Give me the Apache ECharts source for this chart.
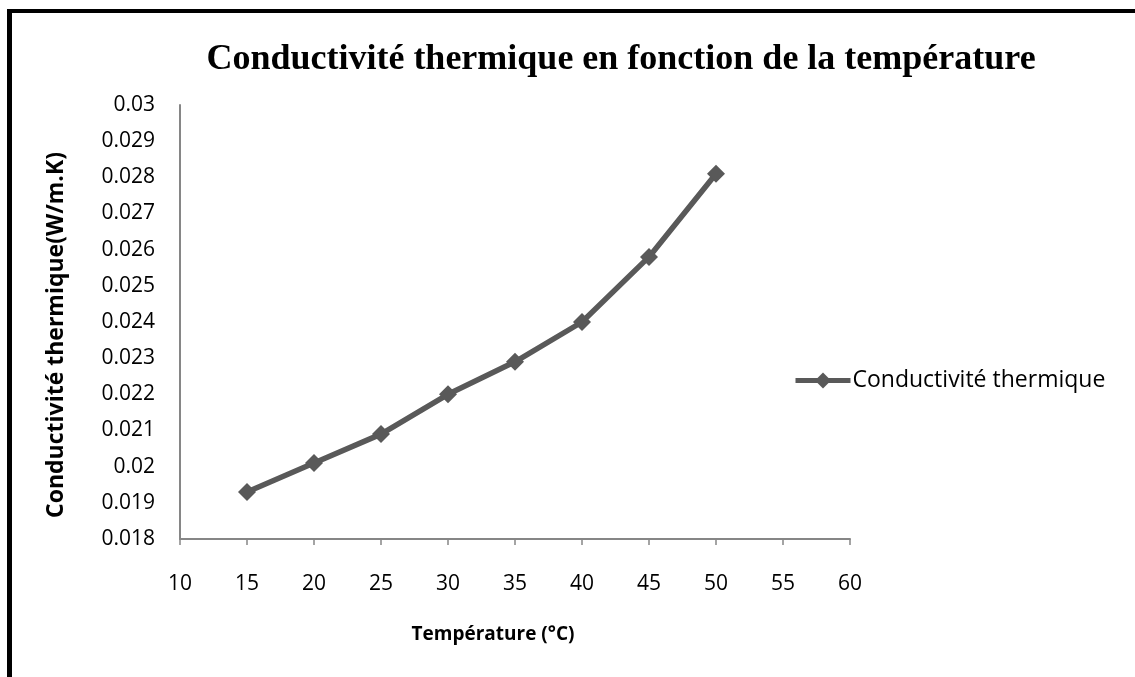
<!DOCTYPE html>
<html>
<head>
<meta charset="utf-8">
<script src="https://cdn.jsdelivr.net/npm/echarts@6/dist/echarts.min.js"></script>
<style>
  html, body { margin: 0; padding: 0; background: #fff; }
  #chart { width: 1135px; height: 677px; }
</style>
</head>
<body>
<div id="chart"></div>
<script>
// Thermal conductivity measured at each temperature step
const temperatures = [15, 20, 25, 30, 35, 40, 45, 50];
const conductivity = [0.0193, 0.0201, 0.0209, 0.0220, 0.0229, 0.0240, 0.0258, 0.0281];
const seriesName = 'Conductivité thermique';
const titleText = 'Conductivité thermique en fonction de la température';
const xAxisTitle = 'Température (°C)';
const yAxisTitle = 'Conductivité thermique(W/m.K)';

const points = temperatures.map((t, i) => [t, conductivity[i]]);
const labelFont = '"Open Sans", "Noto Sans", sans-serif';
const axisGrey = '#868686';
const lineGrey = '#595959';

const chart = echarts.init(document.getElementById('chart'), null, { renderer: 'canvas' });
chart.setOption({
  animation: false,
  backgroundColor: '#ffffff',
  title: {
    text: titleText,
    left: 616,
    top: 37,
    textAlign: 'center',
    textStyle: {
      fontFamily: '"Liberation Serif", "DejaVu Serif", serif',
      fontWeight: 'bold',
      fontSize: 36,
      color: '#000'
    }
  },
  legend: {
    data: [seriesName],
    left: 788,
    top: 364,
    itemWidth: 55,
    itemHeight: 20,
    itemGap: 0,
    lineStyle: { width: 5 },
    textStyle: { fontFamily: labelFont, fontSize: 23, color: '#000', padding: [0, 0, 0, -3] }
  },
  grid: { left: 180, right: 285, top: 105, bottom: 138 },
  xAxis: {
    type: 'value',
    min: 10,
    max: 60,
    interval: 5,
    name: xAxisTitle,
    nameLocation: 'middle',
    nameGap: 86,
    nameTextStyle: { fontFamily: labelFont, fontWeight: 'bold', fontSize: 19, color: '#000', padding: [0, 44, 0, 0] },
    axisLine: { show: true, lineStyle: { color: axisGrey, width: 2 } },
    axisTick: { show: true, inside: false, length: 6, lineStyle: { color: axisGrey, width: 1.5 } },
    axisLabel: { margin: 35, fontFamily: labelFont, fontSize: 21, color: '#000' },
    splitLine: { show: false }
  },
  yAxis: {
    type: 'value',
    min: 0.018,
    max: 0.03,
    interval: 0.001,
    name: yAxisTitle,
    nameLocation: 'middle',
    nameGap: 112,
    nameRotate: 90,
    nameTextStyle: { fontFamily: labelFont, fontWeight: 'bold', fontSize: 23, color: '#000', padding: [0, 26, 0, 0] },
    axisLine: { show: true, lineStyle: { color: axisGrey, width: 2 } },
    axisTick: { show: false },
    axisLabel: {
      margin: 25,
      fontFamily: labelFont,
      fontSize: 21,
      color: '#000',
      formatter: v => String(parseFloat(v.toFixed(3)))
    },
    splitLine: { show: false }
  },
  series: [{
    name: seriesName,
    type: 'line',
    data: points,
    symbol: 'diamond',
    symbolSize: 18,
    lineStyle: { color: lineGrey, width: 5.5 },
    itemStyle: { color: lineGrey },
    emphasis: { disabled: true }
  }],
  graphic: [
    // page frame: heavy rule along the left and top edges
    { type: 'rect', shape: { x: 7, y: 9, width: 5, height: 680 }, style: { fill: '#000' }, silent: true },
    { type: 'rect', shape: { x: 7, y: 9, width: 1140, height: 4 }, style: { fill: '#000' }, silent: true }
  ]
});
</script>
</body>
</html>
